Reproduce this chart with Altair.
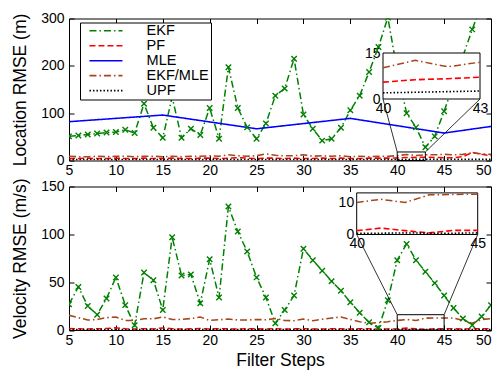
import altair as alt
import pandas as pd

FONT = "Liberation Sans"

# ---------------- data ----------------
steps = list(range(5, 51))
series_names = ["EKF", "PF", "MLE", "EKF/MLE", "UPF"]
series_colors = ["#008000", "#ff0000", "#0000ff", "#a5461e", "#000000"]
series_dashes = [[7, 3, 1.5, 3], [6, 3], [1, 0], [7, 3, 1.5, 3], [1.5, 2]]
series_widths = [1.5, 1.6, 2.0, 1.5, 1.6]

# Location RMSE (m)
loc_ekf = [51, 53, 55, 57, 59, 60, 65, 58, 120, 69,
           48, 134, 48, 67, 54, 111, 46, 197, 111, 70,
           46, 78, 137, 152, 215, 97, 67, 42, 46, 69,
           106, 137, 187, 240, 302, 190, 100, 70, 28, 51,
           104, 161, 220, 277, 330, 360]
loc_pf = [4, 4, 5, 4, 4, 5, 4, 4, 5, 4,
          4, 5, 4, 4, 5, 5, 4, 5, 6, 5,
          4, 5, 5, 4, 5, 4, 4, 5, 4, 5,
          4, 4, 5, 5, 5, 5.5, 6.3, 6.6, 7.1, 6.5,
          6, 6, 8, 17, 13, 10]
mle_steps = [5, 15, 25, 35, 45, 50]
loc_mle = [82, 96, 67, 89, 58, 72]
loc_ekfmle = [9, 8, 8, 9, 8, 9, 9, 8, 9, 9,
              8, 9, 8, 9, 9, 10, 9, 12, 10, 9,
              10, 14, 11, 10, 10, 12, 9, 10, 9, 10,
              8, 9, 8, 9, 9, 10.2, 12.6, 10.5, 12, 12,
              13, 12, 13, 16, 14, 13]
loc_upf = [2.0, 1.9, 2.1, 2.0, 1.8, 2.0, 2.1, 1.9, 2.0, 2.2,
           2.0, 1.9, 2.1, 2.0, 1.8, 2.0, 2.1, 2.0, 1.9, 2.0,
           2.1, 2.0, 1.9, 2.2, 2.0, 2.1, 1.9, 2.0, 2.0, 2.1,
           1.9, 2.0, 2.1, 2.0, 1.9, 2.0, 2.2, 2.4, 2.6, 2.5,
           2.4, 2.3, 2.5, 2.4, 2.3, 2.4]

# Velocity RMSE (m/s)
vel_ekf = [27, 45, 25, 16, 33, 55, 26, 5, 60, 52,
           21, 97, 57, 58, 28, 74, 34, 129, 103, 82,
           55, 34, 7, 21, 36, 85, 73, 62, 51, 41,
           29, 18, 8, 2, 31, 73, 90, 73, 61, 49,
           36, 23, 12, 5, 14, 26]
vel_pf = [1.5, 1.2, 1.0, 1.3, 1.5, 2.4, 1.2, 1.0, 1.3, 1.1,
          2.2, 1.3, 1.0, 1.2, 1.5, 1.1, 1.3, 1.2, 1.0, 1.4,
          1.2, 1.1, 1.3, 1.0, 1.2, 1.4, 1.1, 1.0, 1.3, 1.2,
          1.1, 1.3, 1.2, 1.0, 1.1, 1.2, 2.0, 1.2, 0.5, 1.3,
          1.3, 1.2, 1.1, 1.4, 1.3, 1.2]
vel_ekfmle = [15.3, 12.9, 10.4, 11, 12.9, 13.6, 10, 10, 11.7, 11.7,
              13.6, 11, 11, 12, 13.6, 10, 10.7, 11.5, 10.5, 10.4,
              11, 10.7, 12, 10, 9.7, 11.5, 9.7, 11.2, 12.5, 13.6,
              11, 8.7, 7, 7.7, 8.7, 10, 11, 10, 12.4, 12.5,
              12.6, 12.5, 10, 7, 11, 11.8]
vel_upf = [0.4, 0.5, 0.4, 0.4, 0.5, 0.4, 0.4, 0.5, 0.4, 0.4,
           0.5, 0.4, 0.4, 0.5, 0.4, 0.4, 0.5, 0.4, 0.4, 0.5,
           0.4, 0.4, 0.5, 0.4, 0.4, 0.5, 0.4, 0.4, 0.5, 0.4,
           0.4, 0.5, 0.4, 0.4, 0.5, 0.4, 0.4, 0.5, 0.4, 0.4,
           0.5, 0.4, 0.4, 0.5, 0.4, 0.4]

x_ticks = list(range(5, 51, 5))
loc_ticks = [0, 100, 200, 300]
vel_ticks = [0, 50, 100, 150]

# ---------------- layout ----------------
W = 422
H_TOP = 142
H_BOT = 143.5
SPACING = 26
X_DOMAIN = [5, 50]
X_SHAPE = "M-1,-1L1,1M-1,1L1,-1"

loc_inset = dict(xdom=[40, 43], ydom=[0, 15], xr=[314, 411], yr=[80.5, 34.5],
                 xticks=[40, 43], yticks=[0, 15], box_y=[0, 18])
vel_inset = dict(xdom=[40, 45], ydom=[0, 13], xr=[287.7, 408.7], yr=[48, 6.4],
                 xticks=[40, 45], yticks=[0, 10], box_y=[0, 16])

cscale = alt.Scale(domain=series_names, range=series_colors)
dscale = alt.Scale(domain=series_names, range=series_dashes)
wscale = alt.Scale(domain=series_names, range=series_widths)

last_label_align = {"condition": {"test": "datum.value == %d" % X_DOMAIN[1], "value": "right"},
                    "value": "center"}


def xpix(v):
    return (v - X_DOMAIN[0]) / (X_DOMAIN[1] - X_DOMAIN[0]) * W


def ypix(v, dom, h):
    return h - (v - dom[0]) / (dom[1] - dom[0]) * h


def long_df(series):
    rows = []
    for name in series_names:
        if name in series:
            xs, ys = series[name]
            rows += [{"step": a, "value": b, "series": name} for a, b in zip(xs, ys)]
    return pd.DataFrame(rows)


def panel(series, ydom, yticks, h, ytitle, xtitle, inset, legend):
    df = long_df(series)
    xs = alt.Scale(domain=X_DOMAIN, nice=False, zero=False)
    ys = alt.Scale(domain=ydom, nice=False, zero=False)
    x_axis = alt.Axis(orient="bottom", values=x_ticks, offset=-5, tickSize=5,
                      domain=False, labelPadding=3, labelFlush=False,
                      labelAlign=last_label_align, minExtent=0,
                      title=xtitle, titlePadding=4)
    y_axis = alt.Axis(orient="left", values=yticks, offset=-5, tickSize=5,
                      domain=False, labelPadding=5, minExtent=0,
                      title=ytitle, titlePadding=11)
    lines = alt.Chart(df).mark_line(clip=True).encode(
        x=alt.X("step:Q", scale=xs, axis=x_axis),
        y=alt.Y("value:Q", scale=ys, axis=y_axis),
        color=alt.Color("series:N", scale=cscale, legend=legend),
        strokeDash=alt.StrokeDash("series:N", scale=dscale, legend=legend),
        strokeWidth=alt.StrokeWidth("series:N", scale=wscale, legend=None),
    )
    marks = alt.Chart(df[df.series == "EKF"]).mark_point(
        shape=X_SHAPE, size=30, strokeWidth=1.4, color=series_colors[0],
        filled=False, opacity=1, clip=True
    ).encode(x=alt.X("step:Q", scale=xs), y=alt.Y("value:Q", scale=ys))
    main = alt.layer(lines, marks)

    # zoom box + inward ticks on top/right
    box_df = pd.DataFrame({"x0": [inset["xdom"][0]], "x1": [inset["xdom"][1]],
                           "y0": [inset["box_y"][0]], "y1": [inset["box_y"][1]]})
    box = alt.Chart(box_df).mark_rect(fillOpacity=0, stroke="black", strokeWidth=1).encode(
        x=alt.X("x0:Q", scale=xs, axis=alt.Axis(orient="top", values=x_ticks, offset=-5,
                                                tickSize=5, domain=False, labels=False,
                                                minExtent=0, title=None)),
        x2="x1",
        y=alt.Y("y0:Q", scale=ys, axis=alt.Axis(orient="right", values=yticks, offset=-5,
                                                tickSize=5, domain=False, labels=False,
                                                minExtent=0, title=None)),
        y2="y1",
    )

    # connectors from zoom box to inset
    by = ypix(inset["box_y"][1], ydom, h)
    conn_df = pd.DataFrame({
        "px": [inset["xr"][0], inset["xr"][1]],
        "py": [inset["yr"][0], inset["yr"][0]],
        "qx": [xpix(inset["xdom"][0]), xpix(inset["xdom"][1])],
        "qy": [by, by],
    })
    conn = alt.Chart(conn_df).mark_rule(color="black", strokeWidth=0.8).encode(
        x=alt.X("px:Q", scale=None), y=alt.Y("py:Q", scale=None), x2="qx", y2="qy")

    # inset
    ixs = alt.Scale(domain=inset["xdom"], range=inset["xr"], nice=False, zero=False)
    iys = alt.Scale(domain=inset["ydom"], range=inset["yr"], nice=False, zero=False)
    bg_df = pd.DataFrame({"x0": [inset["xdom"][0]], "x1": [inset["xdom"][1]],
                          "y0": [inset["ydom"][0]], "y1": [inset["ydom"][1]]})
    bg = alt.Chart(bg_df).mark_rect(fill="white", stroke="black", strokeWidth=1).encode(
        x=alt.X("x0:Q", scale=ixs, axis=alt.Axis(orient="bottom", values=inset["xticks"],
                                                 offset=-(h - inset["yr"][0]), ticks=False,
                                                 domain=False, labelPadding=2, format="d",
                                                 labelFlush=False, minExtent=0, title=None)),
        x2="x1",
        y=alt.Y("y0:Q", scale=iys, axis=alt.Axis(orient="left", values=inset["yticks"],
                                                 offset=-inset["xr"][0], ticks=False, format="d",
                                                 domain=False, labelPadding=3, minExtent=0,
                                                 title=None)),
        y2="y1",
    )
    ilayers = [bg]
    for i, name in enumerate(series_names):
        if name in ("EKF", "MLE") or name not in series:
            continue
        sub = df[(df.series == name) & (df.step >= inset["xdom"][0]) & (df.step <= inset["xdom"][1])]
        ilayers.append(alt.Chart(sub).mark_line(
            color=series_colors[i], strokeDash=series_dashes[i], strokeWidth=series_widths[i]
        ).encode(x=alt.X("step:Q", scale=ixs), y=alt.Y("value:Q", scale=iys)))
    inset_group = alt.layer(*ilayers)

    return alt.layer(main, box, conn, inset_group).resolve_scale(
        x="independent", y="independent").properties(width=W, height=h)


legend_top = alt.Legend(
    orient="none", legendX=11, legendY=4, title=None,
    strokeColor="black", fillColor="white", padding=2,
    symbolType="M-3,0L3,0", symbolSize=121, symbolOffset=16.7, symbolStrokeWidth=1.6,
    labelFont=FONT, labelFontSize=14.5, labelColor="black",
    labelOffset=33.4, rowPadding=0, clipHeight=12.3,
)

top = panel(
    {"EKF": (steps, loc_ekf), "PF": (steps, loc_pf), "MLE": (mle_steps, loc_mle),
     "EKF/MLE": (steps, loc_ekfmle), "UPF": (steps, loc_upf)},
    [0, 300], loc_ticks, H_TOP, "Location RMSE (m)", None, loc_inset, legend_top)

bottom = panel(
    {"EKF": (steps, vel_ekf), "PF": (steps, vel_pf),
     "EKF/MLE": (steps, vel_ekfmle), "UPF": (steps, vel_upf)},
    [0, 150], vel_ticks, H_BOT, "Velocity RMSE (m/s)", "Filter Steps", vel_inset, None)

chart = alt.vconcat(top, bottom, spacing=SPACING, bounds="flush").resolve_scale(
    x="independent", y="independent", color="independent",
    strokeDash="independent", strokeWidth="independent"
).properties(
    padding={"left": 3, "top": 2.5, "right": 0, "bottom": 0}
).configure_view(
    stroke="black", strokeWidth=1
).configure_axis(
    labelFont=FONT, labelFontSize=14, labelColor="black",
    titleFont=FONT, titleFontSize=17.5, titleColor="black", titleFontWeight="normal",
    tickColor="black", tickWidth=1, grid=False,
)

chart.save("out.html", embed_options={"renderer": "svg", "actions": False})
